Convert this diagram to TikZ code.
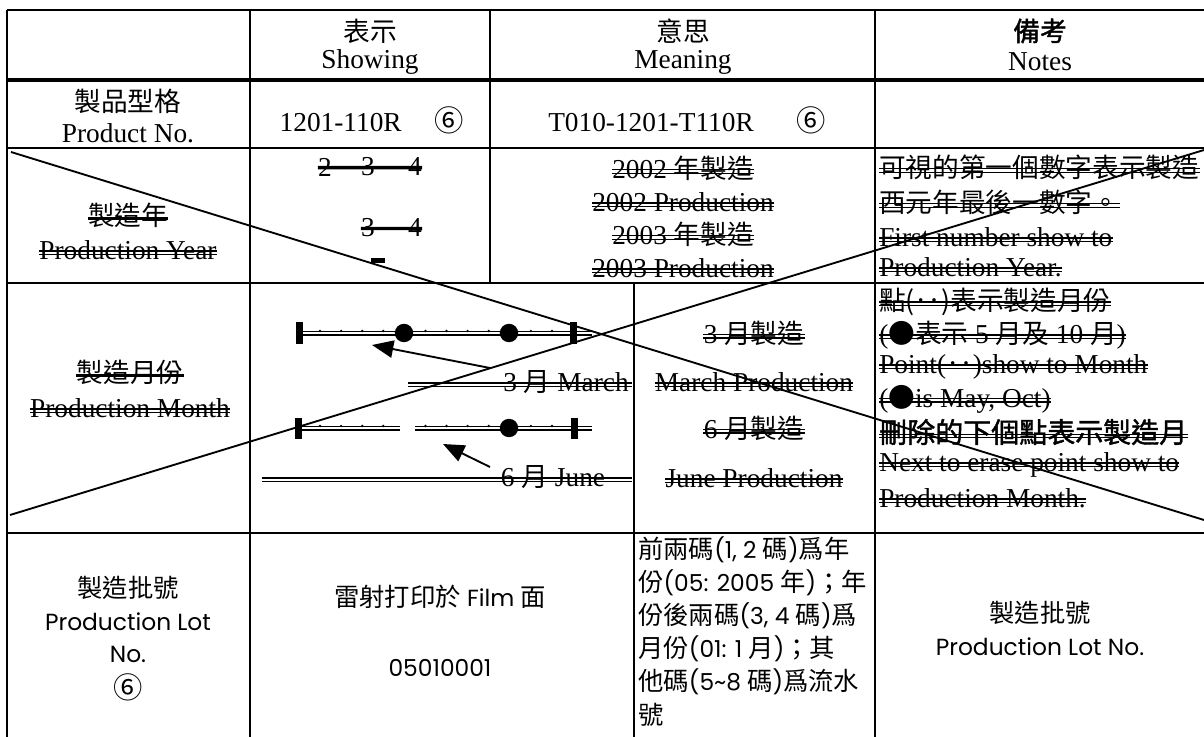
\documentclass[tikz,border=0pt]{standalone}
\usepackage{fontspec}
\setmainfont{Liberation Serif}
\newfontfamily\cjkf{Noto Sans CJK TC}
\newfontfamily\cjkbf[FakeBold=1.5]{Noto Sans CJK TC}
\newfontfamily\gothicf{Poppins}
\usetikzlibrary{arrows.meta}
\newcommand\cj[1]{{\cjkf\fontsize{20}{24}\selectfont #1}}
\newcommand\cjsix{{\cjkf\fontsize{22}{24}\selectfont ⑥}}
\newcommand\cjb[1]{{\cjkbf\fontsize{20}{24}\selectfont #1}}
\newcommand\cjbig[1]{{\cjkbf\fontsize{21}{24}\selectfont #1}}
\newcommand\cjl[1]{{\cjkf\fontsize{19}{23}\selectfont #1}}
\newcommand\dstk[1]{\draw[stk] ([yshift=6.3pt]#1.base west) -- ([yshift=6.3pt]#1.base east) ([yshift=3.7pt]#1.base west) -- ([yshift=3.7pt]#1.base east);}
\newcommand\tstk[2]{\draw[tstk] ([yshift=#2]#1.base west) -- ([yshift=#2]#1.base east);}
\begin{document}
\begin{tikzpicture}[x=0.75pt,y=-0.75pt,
  txt/.style={inner sep=0pt,font=\fontsize{20.5}{24}\selectfont},
  gt/.style={inner sep=0pt,font=\gothicf\fontsize{17.5}{20}\selectfont},
  grid/.style={line width=1.5pt},
  stk/.style={line width=1.05pt},
  tstk/.style={line width=2.5pt},
  diag/.style={line width=1.4pt},
  arr/.style={line width=1.4pt,-{Triangle[length=16pt,width=13pt]}},
  mline/.style={line width=1pt}]
\path[use as bounding box] (0,0) rectangle (1204,737);
\clip (0,0) rectangle (1204,737);
\fill[white] (0,0) rectangle (1204,737);

% ---- table grid
\draw[grid] (7,10) -- (1204,10);
\draw[line width=3pt] (7,80) -- (1204,80);
\draw[grid] (7,148) -- (1204,148);
\draw[grid] (7,283) -- (1204,283);
\draw[grid] (7,533) -- (1204,533);
\draw[grid] (7,10) -- (7,737);
\draw[grid] (250,10) -- (250,737);
\draw[grid] (490,10) -- (490,283);
\draw[grid] (634,283) -- (634,737);
\draw[grid] (875,10) -- (875,737);

% ---- header
\node[txt] (h1c) at (370,31) {\cj{表示}};
\node[txt] (h1e) at (370,62) {Showing};
\node[txt] (h2c) at (683,31) {\cj{意思}};
\node[txt] (h2e) at (683,62) {Meaning};
\node[txt] (h3c) at (1040,31) {\cjb{備考}};
\node[txt] (h3e) at (1040,62) {Notes};

% ---- product row
\node[txt] (p0c) at (128,101) {\cj{製品型格}};
\node[txt] (p0e) at (128,133) {Product No.};
\node[txt] (p1) at (372,120) {1201-110R\hspace{25pt}\cjsix};
\node[txt] (p2) at (687,120) {T010-1201-T110R\hspace{32pt}\cjsix};

% ---- production year row
\node[txt] (y0a) at (128,215) {\cj{製造年}};
\node[txt] (y0b) at (128,250) {Production Year};
\tstk{y0a}{5pt}
\dstk{y0b}

\node[txt] (y1a) at (325,167) {2};
\node[txt] (y1b) at (368,167) {3};
\node[txt] (y1c) at (415,167) {4};
\node[txt] (y2b) at (368,228) {3};
\node[txt] (y2c) at (415,228) {4};
\draw[tstk] ([yshift=6.3pt]y1a.base west) -- ([yshift=6.3pt]y1c.base east);
\draw[tstk] ([yshift=6.3pt]y2b.base west) -- ([yshift=6.3pt]y2c.base east);
\fill (371,258.5) rectangle (385,263);

\node[txt] (ym1) at (683,168) {2002 \cj{年製造}};
\node[txt] (ym2) at (683,202) {2002 Production};
\node[txt] (ym3) at (683,234) {2003 \cj{年製造}};
\node[txt] (ym4) at (683,268) {2003 Production};
\dstk{ym1}\dstk{ym2}\dstk{ym3}\dstk{ym4}

\node[txt,anchor=west] (yn1) at (879,167) {\cj{可視的第一個數字表示製造}};
\node[txt,anchor=west] (yn2) at (879,202) {\cj{西元年最後一數字。}};
\node[txt,anchor=west] (yn3) at (879,237) {First number show to};
\node[txt,anchor=west] (yn4) at (879,267) {Production Year.};
\dstk{yn1}\dstk{yn2}\dstk{yn3}\dstk{yn4}

% ---- production month row
\node[txt] (m0a) at (130,372) {\cj{製造月份}};
\node[txt] (m0b) at (130,408) {Production Month};
\tstk{m0a}{5pt}
\dstk{m0b}

% month scale 1
\draw[mline] (302,331.5) -- (592,331.5) (302,335) -- (592,335);
\foreach \i in {1,2,3,4,6,7,8,9,11,12} \fill (299+21.08*\i,331) circle[radius=1pt];
\fill (404,333) circle[radius=6.9pt];
\fill (509,333) circle[radius=6.9pt];
\fill (295.5,322) rectangle (302.5,344);
\fill (569.5,322) rectangle (576.5,344);

% month scale 2
\draw[mline] (302,426.5) -- (400,426.5) (302,430) -- (400,430);
\draw[mline] (415,426.5) -- (592,426.5) (415,430) -- (592,430);
\foreach \i in {1,2,3,4,6,7,8,9,11,12} \fill (299+21.08*\i,426) circle[radius=1pt];
\fill (509,428) circle[radius=6.9pt];
\fill (294.5,418) rectangle (301.5,439);
\fill (570.5,418) rectangle (577.5,439);

\node[txt] (m3) at (566,382) {3 \cj{月} March};
\node[txt] (m6) at (553,477) {6 \cj{月} June};
\coordinate (m3L) at (408,0);
\coordinate (m6L) at (262,0);
\draw[stk] (m3L |- m3.base) ++(0,-8.4) -- ++(224,0) ++(-224,3.4) -- ++(224,0);
\draw[stk] (m6L |- m6.base) ++(0,-8.4) -- ++(370,0) ++(-370,3.4) -- ++(370,0);

\coordinate (a1s) at (490,368);
\coordinate (a1t) at (372,345);
\coordinate (a2s) at (490,467);
\coordinate (a2t) at (443,444);
\draw[arr] (a1s) -- (a1t);
\draw[arr] (a2s) -- (a2t);

\node[txt] (mm1) at (754,333) {3 \cj{月製造}};
\node[txt] (mm2) at (754,382) {March Production};
\node[txt] (mm3) at (754,428) {6 \cj{月製造}};
\node[txt] (mm4) at (754,478) {June Production};
\dstk{mm1}\dstk{mm2}\dstk{mm3}\dstk{mm4}

\node[txt,anchor=west] (mn1) at (879,302) {\cj{點(‥)表示製造月份}};
\node[txt,anchor=west] (mn2) at (879,335) {(\cj{●表示} 5 \cj{月及} 10 \cj{月})};
\node[txt,anchor=west] (mn3) at (879,367) {Point(\cj{‥})show to Month};
\node[txt,anchor=west] (mn4) at (879,399) {(\cj{●}is May, Oct)};
\node[txt,anchor=west] (mn5) at (879,432) {\cjbig{刪除的下個點表示製造月}};
\node[txt,anchor=west] (mn6) at (879,465) {Next to erase point show to};
\node[txt,anchor=west] (mn7) at (879,498) {Production Month.};
\dstk{mn1}\dstk{mn2}\dstk{mn3}\dstk{mn4}\dstk{mn5}\dstk{mn6}\dstk{mn7}

% ---- lot row
\node[gt] (l0a) at (128,588) {\cjl{製造批號}};
\node[gt] (l0b) at (128,622) {Production Lot};
\node[gt] (l0c) at (128,654) {No.};
\node[txt] (l0d) at (128,687) {\cjsix};
\node[gt] (l1a) at (440,597) {\cjl{雷射打印於} Film \cjl{面}};
\node[gt] (l1b) at (440,668) {05010001};
\node[gt,anchor=west] (l2a) at (638,550) {\cjl{前兩碼}(1, 2 \cjl{碼})\cjl{爲年}};
\node[gt,anchor=west] (l2b) at (638,583) {\cjl{份}(05: 2005 \cjl{年})\cjl{；年}};
\node[gt,anchor=west] (l2c) at (638,616) {\cjl{份後兩碼}(3, 4 \cjl{碼})\cjl{爲}};
\node[gt,anchor=west] (l2d) at (638,649) {\cjl{月份}(01: 1 \cjl{月})\cjl{；其}};
\node[gt,anchor=west] (l2e) at (638,682) {\cjl{他碼}(5\textasciitilde 8 \cjl{碼})\cjl{爲流水}};
\node[gt,anchor=west] (l2f) at (638,715) {\cjl{號}};
\node[gt] (l3a) at (1040,613) {\cjl{製造批號}};
\node[gt] (l3b) at (1040,647) {Production Lot No.};

% ---- crossing diagonals
\draw[diag] (11,152) -- (1204,520);
\draw[diag] (10,515) -- (1204,150);
\end{tikzpicture}
\end{document}
